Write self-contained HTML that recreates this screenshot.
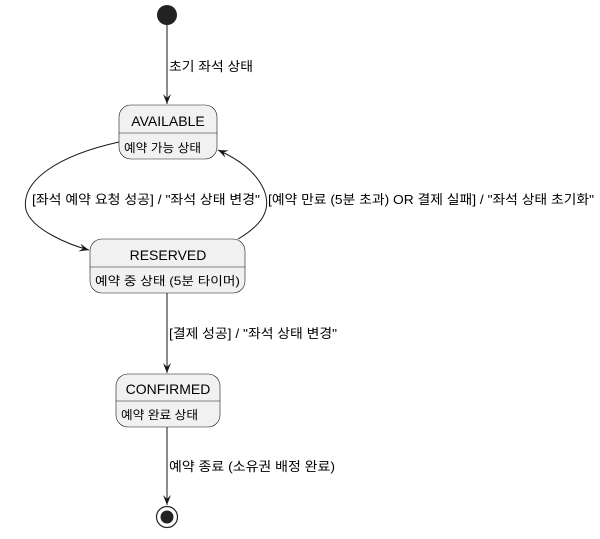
<!DOCTYPE html>
<html><head><meta charset="utf-8"><style>
html,body{margin:0;padding:0;background:#fff;}
svg text{font-family:"Liberation Sans","Noto Sans CJK KR",sans-serif;fill:#000;}
</style></head><body>
<svg width="600" height="534" viewBox="0 0 600 534" xmlns="http://www.w3.org/2000/svg">
<defs>
<marker id="a" viewBox="0 0 10 10" refX="10" refY="5" markerWidth="10" markerHeight="10" markerUnits="userSpaceOnUse" orient="auto">
<path d="M0,1 L10,5 L0,9 L4,5 Z" fill="#181818"/>
</marker>
</defs>
<circle cx="167" cy="15" r="10" fill="#222"/>
<line x1="167" y1="25" x2="167" y2="104" stroke="#181818" marker-end="url(#a)"/>
<text x="169" y="71" font-size="13" textLength="84" lengthAdjust="spacingAndGlyphs">초기 좌석 상태</text>

<rect x="119" y="105" width="98" height="54" rx="12" fill="#f1f1f1" stroke="#181818" stroke-width="0.6"/>
<line x1="119" y1="133" x2="217" y2="133" stroke="#181818" stroke-width="0.6"/>
<text x="168" y="126" font-size="14" text-anchor="middle">AVAILABLE</text>
<text x="124" y="152" font-size="12" textLength="77" lengthAdjust="spacingAndGlyphs">예약 가능 상태</text>

<path d="M119,142 C60,155 20,180 26,210 C32,230 70,245 89,250" fill="none" stroke="#181818" marker-end="url(#a)"/>
<text x="32" y="204" font-size="13" textLength="228" lengthAdjust="spacingAndGlyphs">[좌석 예약 요청 성공] / "좌석 상태 변경"</text>

<path d="M238,239 C262,225 272,210 264,190 C256,172 240,160 218,150" fill="none" stroke="#181818" marker-end="url(#a)"/>
<text x="268" y="204" font-size="13" textLength="326" lengthAdjust="spacingAndGlyphs">[예약 만료 (5분 초과) OR 결제 실패] / "좌석 상태 초기화"</text>

<rect x="90" y="239" width="155" height="54" rx="12" fill="#f1f1f1" stroke="#181818" stroke-width="0.6"/>
<line x1="90" y1="267" x2="245" y2="267" stroke="#181818" stroke-width="0.6"/>
<text x="168" y="260" font-size="14" text-anchor="middle">RESERVED</text>
<text x="95" y="285" font-size="12" textLength="145" lengthAdjust="spacingAndGlyphs">예약 중 상태 (5분 타이머)</text>

<line x1="167" y1="293" x2="167" y2="373" stroke="#181818" marker-end="url(#a)"/>
<text x="169" y="338" font-size="13" textLength="168" lengthAdjust="spacingAndGlyphs">[결제 성공] / "좌석 상태 변경"</text>

<rect x="116" y="374" width="104" height="53" rx="12" fill="#f1f1f1" stroke="#181818" stroke-width="0.6"/>
<line x1="116" y1="401" x2="220" y2="401" stroke="#181818" stroke-width="0.6"/>
<text x="168" y="394" font-size="14" text-anchor="middle">CONFIRMED</text>
<text x="121" y="419" font-size="12" textLength="77" lengthAdjust="spacingAndGlyphs">예약 완료 상태</text>

<line x1="167" y1="427" x2="167" y2="505" stroke="#181818" marker-end="url(#a)"/>
<text x="169" y="471" font-size="13" textLength="166" lengthAdjust="spacingAndGlyphs">예약 종료 (소유권 배정 완료)</text>

<circle cx="167" cy="517" r="10.5" fill="#fff" stroke="#222" stroke-width="1.2"/>
<circle cx="167" cy="517" r="6.5" fill="#222"/>
</svg>
</body></html>
